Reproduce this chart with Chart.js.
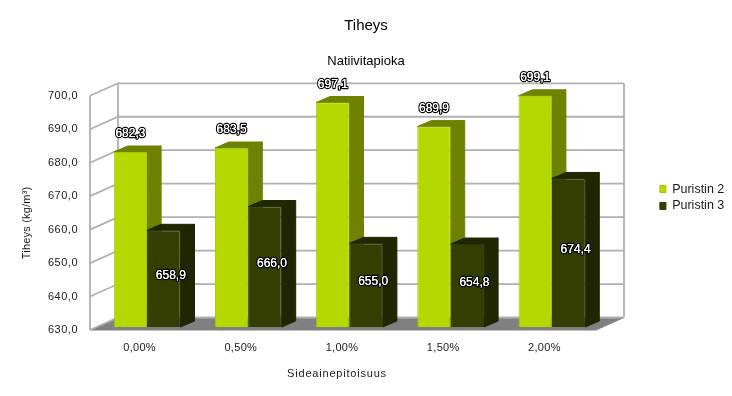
<!DOCTYPE html>
<html>
<head>
<meta charset="utf-8">
<title>Tiheys</title>
<script src="https://cdn.jsdelivr.net/npm/chart.js@4"></script>
<style>
  body { margin: 0; background: #fff; }
  canvas { display: block; }
</style>
</head>
<body>
<canvas id="chart" width="732" height="396"></canvas>
<script>
const categories = ['0,00%', '0,50%', '1,00%', '1,50%', '2,00%'];
const puristin2 = [682.3, 683.5, 697.1, 689.9, 699.1];
const puristin3 = [658.9, 666.0, 655.0, 654.8, 674.4];
const axisMin = 630;
const axisMax = 700;

const FONT = '"Liberation Sans", Arial, sans-serif';
const TEXT_COLOR = '#1a1a1a';
const comma = (v) => v.toFixed(1).replace('.', ',');

// 3D look: the box goes 28px right and 12.5px up, bars stand in the middle of it
const wallDepth = { x: 28, y: -12.5 };
const barShift = { x: 6.5, y: -3 };
const barDepth = { x: 14, y: -6 };
const sideColors = ['#6f8200', '#1f2600'];

// moves an axis title and spaces the axis letters, Chart.js has no option for this
const tweakAxis = (scale, dx, dy, titleSpacing, labelSpacing) => {
    if (scale._tweaked) return;
    scale._tweaked = true;
    const drawTitle = scale.drawTitle;
    const drawLabels = scale.drawLabels;
    scale.drawTitle = function () {
        const ctx = this.ctx;
        ctx.save();
        ctx.translate(dx, dy);
        ctx.letterSpacing = titleSpacing;
        drawTitle.apply(this, arguments);
        ctx.restore();
    };
    scale.drawLabels = function () {
        const ctx = this.ctx;
        ctx.save();
        ctx.letterSpacing = labelSpacing;
        drawLabels.apply(this, arguments);
        ctx.restore();
    };
};

const poly = (ctx, pts, color) => {
    ctx.beginPath();
    pts.forEach((p, i) => (i ? ctx.lineTo(p[0], p[1]) : ctx.moveTo(p[0], p[1])));
    ctx.closePath();
    ctx.fillStyle = color;
    ctx.fill();
    ctx.strokeStyle = color;
    ctx.lineWidth = 1;
    ctx.lineJoin = 'round';
    ctx.stroke();
};

const box3d = {
    id: 'box3d',
    beforeLayout(chart) {
        // keep the plot's right edge put, whatever the legend text measures
        const legend = chart.legend;
        if (legend._fitWrapped) return;
        legend._fitWrapped = true;
        const fit = legend.fit;
        legend.fit = function () {
            fit.call(this);
            this.width = 136;
        };
    },
    afterLayout(chart) {
        // legend sits apart from the plot, higher than the layout would put it
        chart.legend.left = 655.5;
        chart.legend.top = 178.4;
    },
    beforeDatasetsDraw(chart) {
        const ctx = chart.ctx;
        const { left, right, bottom } = chart.chartArea;
        const y = chart.scales.y;
        const d = wallDepth;

        ctx.save();
        // floor
        poly(ctx, [[left, bottom], [left + d.x, bottom + d.y], [right + d.x, bottom + d.y], [right, bottom]], '#808080');

        // walls and grid lines
        ctx.strokeStyle = '#b0b0b0';
        ctx.lineWidth = 1.8;
        ctx.lineJoin = 'miter';
        y.ticks.forEach((t) => {
            const p = y.getPixelForValue(t.value);
            ctx.beginPath();
            ctx.moveTo(left, p);
            ctx.lineTo(left + d.x, p + d.y);
            ctx.lineTo(right + d.x, p + d.y);
            ctx.stroke();
        });
        const top = y.getPixelForValue(y.max);
        [[left, 0], [left + d.x, d.y], [right + d.x, d.y]].forEach((v) => {
            ctx.beginPath();
            ctx.moveTo(v[0], top + v[1]);
            ctx.lineTo(v[0], bottom + v[1]);
            ctx.stroke();
        });

        // bars, first series first so the second one covers its side face
        ctx.translate(barShift.x, barShift.y);
        chart.data.datasets.forEach((ds, i) => {
            chart.getDatasetMeta(i).data.forEach((el) => {
                const r = el.x + el.width / 2;
                const l = el.x - el.width / 2;
                const dx = barDepth.x;
                const dy = barDepth.y;
                poly(ctx, [[r, el.y], [r + dx, el.y + dy], [r + dx, el.base + dy], [r, el.base]], sideColors[i]);
                poly(ctx, [[l, el.y], [l + dx, el.y + dy], [r + dx, el.y + dy], [r, el.y]], sideColors[i]);
                el.draw(ctx);
            });
        });
        ctx.restore();
    },
    // the bars are already drawn above
    beforeDatasetDraw() {
        return false;
    },
    afterDatasetsDraw(chart) {
        const ctx = chart.ctx;
        ctx.save();
        ctx.font = '12px ' + FONT;
        ctx.textAlign = 'center';
        ctx.textBaseline = 'middle';
        ctx.lineJoin = 'round';
        chart.data.datasets.forEach((ds, i) => {
            chart.getDatasetMeta(i).data.forEach((el, k) => {
                const text = comma(ds.data[k]);
                const x = el.x + barShift.x + (i ? 7 : 0);
                const yPos = i ? (el.y + el.base) / 2 - 6 : el.y - 21;
                ctx.strokeStyle = '#000';
                ctx.lineWidth = 2.5;
                ctx.strokeText(text, x, yPos);
                ctx.fillStyle = '#fff';
                ctx.fillText(text, x, yPos);
                ctx.fillText(text, x, yPos);
            });
        });
        ctx.restore();
    }
};

new Chart(document.getElementById('chart'), {
    type: 'bar',
    data: {
        labels: categories,
        datasets: [
            { label: 'Puristin 2', data: puristin2, base: axisMin, backgroundColor: '#b4d800', borderColor: '#a6c400', borderWidth: 1 },
            { label: 'Puristin 3', data: puristin3, base: axisMin, backgroundColor: '#343e00', borderColor: '#2e3700', borderWidth: 1 }
        ]
    },
    plugins: [box3d],
    options: {
        responsive: false,
        animation: false,
        categoryPercentage: 0.66,
        barPercentage: 1,
        plugins: {
            title: {
                display: true,
                text: 'Tiheys',
                color: '#000',
                font: { family: FONT, size: 15, weight: 'normal' },
                padding: { top: 17, bottom: 14 }
            },
            subtitle: {
                display: true,
                text: 'Natiivitapioka',
                color: '#000',
                font: { family: FONT, size: 13, weight: 'normal' },
                padding: { top: 5, bottom: 26.2 }
            },
            legend: {
                position: 'right',
                align: 'start',
                labels: {
                    boxWidth: 6,
                    boxHeight: 7,
                    padding: 4.4,
                    color: TEXT_COLOR,
                    font: { family: FONT, size: 12.5 }
                }
            },
            tooltip: { enabled: false }
        },
        scales: {
            x: {
                grid: { display: false, drawTicks: false },
                border: { display: false },
                ticks: {
                    color: TEXT_COLOR,
                    padding: 11,
                    labelOffset: -1,
                    maxRotation: 0,
                    font: { family: FONT, size: 11 }
                },
                title: {
                    display: true,
                    text: 'Sideainepitoisuus',
                    color: TEXT_COLOR,
                    font: { family: FONT, size: 11 },
                    padding: { top: 13.2, bottom: 15.4 }
                },
                afterFit(scale) {
                    scale.height = 66;
                    tweakAxis(scale, -6, 0, '0.8px', '0.3px');
                }
            },
            y: {
                min: axisMin,
                max: axisMax,
                grid: { display: false, drawTicks: false },
                border: { display: false },
                ticks: {
                    stepSize: 10,
                    color: TEXT_COLOR,
                    padding: 12,
                    font: { family: FONT, size: 11 },
                    callback: (v) => comma(v)
                },
                title: {
                    display: true,
                    text: 'Tiheys (kg/m³)',
                    color: TEXT_COLOR,
                    font: { family: FONT, size: 11 },
                    padding: { top: 20.4, bottom: 0 }
                },
                afterFit(scale) {
                    scale.width = 90;
                    tweakAxis(scale, 0, 10, '0.2px', '0.5px');
                }
            }
        }
    }
});
</script>
</body>
</html>
